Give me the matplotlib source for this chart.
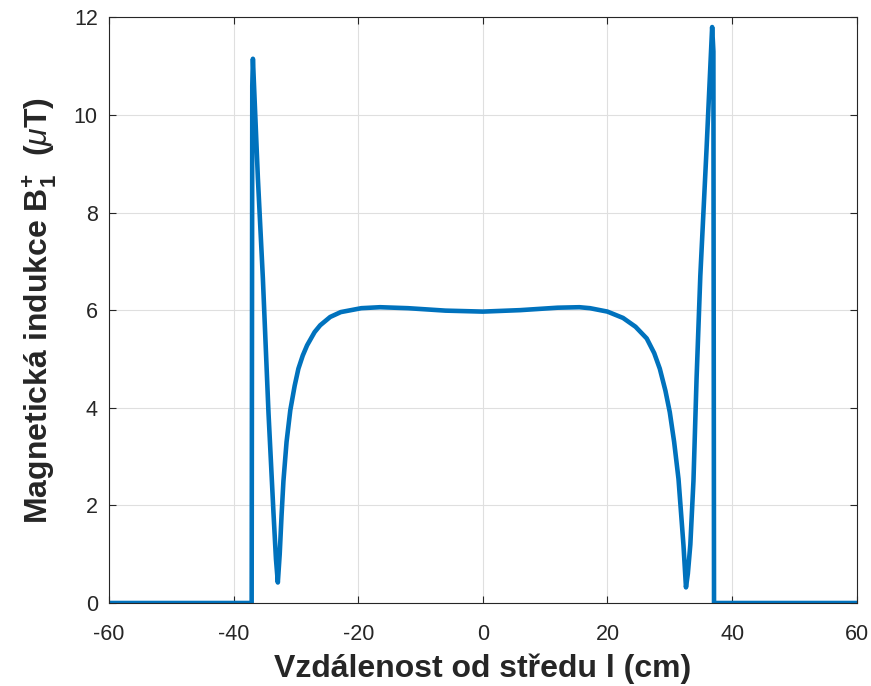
import numpy as np
import matplotlib.pyplot as plt

# distance from centre (cm) and B1+ (uT)
x_cm = [-60, -37.1, -37.0, -36.9, -36.1, -35.3, -34.4, -33.6, -33.2, -32.9,
        -32.6, -32.3, -32.0, -31.5, -30.9, -30.2, -29.6, -28.9, -28.2, -27.0,
        -26.1, -24.5, -22.8, -19.5, -16.5, -12.0, -6.0, 0.0, 6.0, 12.0,
        15.5, 17.2, 20.0, 22.5, 24.5, 26.3, 27.5, 28.4, 29.3, 30.0,
        30.7, 31.4, 32.2, 32.6, 32.9, 33.3, 33.8, 34.3, 34.9, 35.9,
        36.8, 37.0, 37.1, 60]
b1_uT = [0, 0, 10.6, 11.15, 8.7, 6.65, 3.9, 1.85, 0.9, 0.42,
         1.0, 1.8, 2.5, 3.3, 3.95, 4.45, 4.8, 5.07, 5.28, 5.55,
         5.69, 5.86, 5.96, 6.04, 6.06, 6.04, 5.99, 5.97, 6.0, 6.05,
         6.06, 6.04, 5.97, 5.84, 5.66, 5.42, 5.12, 4.8, 4.35, 3.91,
         3.3, 2.54, 1.18, 0.32, 0.6, 1.2, 2.5, 4.6, 6.7, 9.3,
         11.8, 11.3, 0, 0]

plt.rcParams['font.family'] = ['Liberation Sans', 'DejaVu Sans']
plt.rcParams['axes.unicode_minus'] = False
plt.rcParams['mathtext.fontset'] = 'custom'
plt.rcParams['mathtext.rm'] = 'Liberation Sans:bold'
plt.rcParams['mathtext.bf'] = 'Liberation Sans:bold'
plt.rcParams['mathtext.it'] = 'Liberation Sans:italic'

fig = plt.figure(figsize=(8.71, 6.86), dpi=100)
ax = fig.add_axes([0.1251, 0.121, 0.8585, 0.8538])

ax.plot(x_cm, b1_uT, color='#0072BD', linewidth=3.3, solid_joinstyle='round')

ax.set_xlim(-60, 60)
ax.set_ylim(0, 12)
ax.set_xticks(np.arange(-60, 61, 20))
ax.set_yticks(np.arange(0, 13, 2))
ax.grid(True, color='#dfdfdf', linewidth=0.8)
ax.set_axisbelow(True)
ax.tick_params(direction='in', top=True, right=True, labelsize=15.5,
               colors='#262626', length=5, width=0.8)
ax.tick_params(axis='x', pad=15)
ax.tick_params(axis='y', pad=8)
for s in ax.spines.values():
    s.set_color('#262626')
    s.set_linewidth(0.8)

ax.set_xlabel('Vzdálenost od středu l (cm)', fontsize=23, fontweight='bold',
              color='#262626', labelpad=6)
ax.set_ylabel(r'Magnetická indukce B$_1^{+}$  ($\mu$T)', fontsize=23,
              fontweight='bold', color='#262626', labelpad=11)

fig.savefig('out.png', dpi=100)
